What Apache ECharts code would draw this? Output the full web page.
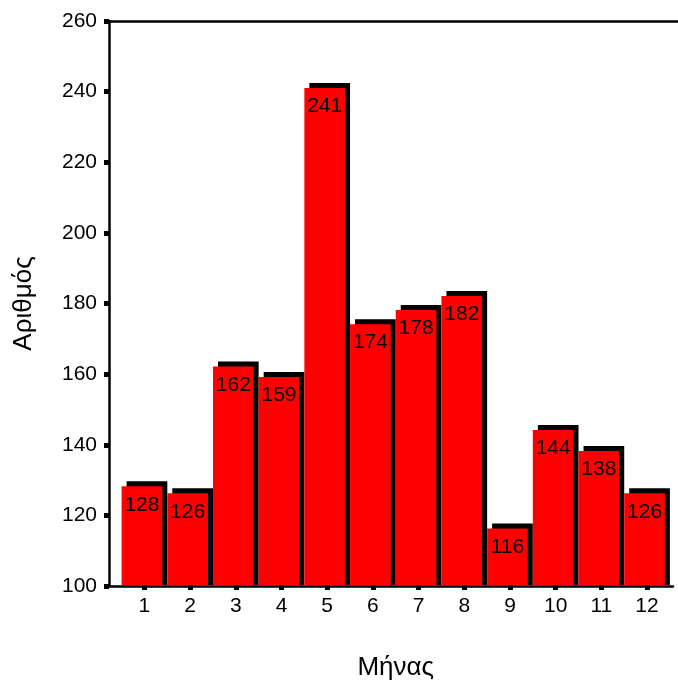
<!DOCTYPE html>
<html>
<head>
<meta charset="utf-8">
<script src="https://cdn.jsdelivr.net/npm/echarts@6/dist/echarts.min.js"></script>
<style>
html,body{margin:0;padding:0;background:#fff;}
#chart{width:678px;height:686px;}
</style>
</head>
<body>
<div id="chart"></div>
<script>
var months = ['1','2','3','4','5','6','7','8','9','10','11','12'];
var counts = [128, 126, 162, 159, 241, 174, 178, 182, 116, 144, 138, 126];
var yMin = 100, yMax = 260, yStep = 20;
var xTitle = 'Μήνας';
var yTitle = 'Αριθμός';

var FONT = '"Liberation Sans", Arial, sans-serif';
var chart = echarts.init(document.getElementById('chart'), null, {renderer: 'canvas'});

var seriesData = counts.map(function (v, i) { return [i, v]; });

var option = {
  backgroundColor: '#ffffff',
  animation: false,
  textStyle: {fontFamily: FONT},
  grid: [
    {left: 109, top: 21, right: 5, height: 565, containLabel: false},
    {left: 109, top: 21, right: 0, height: 565, containLabel: false},
    {left: 121.6, top: 21, width: 548.3, height: 565, containLabel: false}
  ],
  xAxis: [
    {gridIndex: 0, type: 'value', min: 0, max: 1, position: 'bottom',
     axisLine: {show: true, onZero: false, lineStyle: {color: '#000', width: 2.5}},
     axisTick: {show: false}, axisLabel: {show: false}, splitLine: {show: false}},
    {gridIndex: 1, type: 'value', min: 0, max: 1, position: 'top',
     axisLine: {show: true, onZero: false, lineStyle: {color: '#000', width: 2.5}},
     axisTick: {show: false}, axisLabel: {show: false}, splitLine: {show: false}},
    {gridIndex: 2, type: 'category', data: months, position: 'bottom',
     boundaryGap: true,
     axisLine: {show: false, onZero: false},
     axisTick: {show: true, alignWithLabel: true, length: 5, lineStyle: {color: '#000', width: 5}},
     axisLabel: {show: true, color: '#000', fontSize: 21, fontFamily: FONT, margin: 11},
     splitLine: {show: false},
     name: xTitle, nameLocation: 'middle', nameGap: 70,
     nameTextStyle: {color: '#000', fontSize: 26, fontFamily: FONT}}
  ],
  yAxis: [
    {gridIndex: 0, type: 'value', min: yMin, max: yMax, interval: yStep,
     axisLine: {show: true, onZero: false, lineStyle: {color: '#000', width: 2.5}},
     axisTick: {show: true, length: 5, lineStyle: {color: '#000', width: 5}},
     axisLabel: {show: true, color: '#000', fontSize: 21, fontFamily: FONT, margin: 12},
     splitLine: {show: false},
     name: yTitle, nameLocation: 'middle', nameGap: 72, nameRotate: 90,
     nameTextStyle: {color: '#000', fontSize: 26, fontFamily: FONT}},
    {gridIndex: 1, type: 'value', min: yMin, max: yMax, show: false},
    {gridIndex: 2, type: 'value', min: yMin, max: yMax, show: false}
  ],
  series: [{
    type: 'custom',
    xAxisIndex: 2,
    yAxisIndex: 2,
    data: seriesData,
    clip: false,
    renderItem: function (params, api) {
      var idx = api.value(0);
      var v = api.value(1);
      var top = api.coord([idx, v]);
      var base = api.coord([idx, yMin]);
      var band = api.size([1, 0])[0];
      var off = 5;
      var w = band - off;
      var x0 = top[0] - band / 2;
      var h = base[1] - top[1];
      return {
        type: 'group',
        children: [
          {type: 'rect', shape: {x: x0 + off, y: top[1] - off, width: w, height: h + off},
           style: {fill: '#000000'}},
          {type: 'rect', shape: {x: x0, y: top[1], width: w, height: h},
           style: {fill: '#ff0000'}},
          {type: 'text', x: x0 + w / 2, y: top[1] + 8,
           style: {text: String(v), fill: '#000', font: '21px ' + FONT,
                   textAlign: 'center', textVerticalAlign: 'top'}}
        ]
      };
    }
  }]
};
chart.setOption(option);
</script>
</body>
</html>
